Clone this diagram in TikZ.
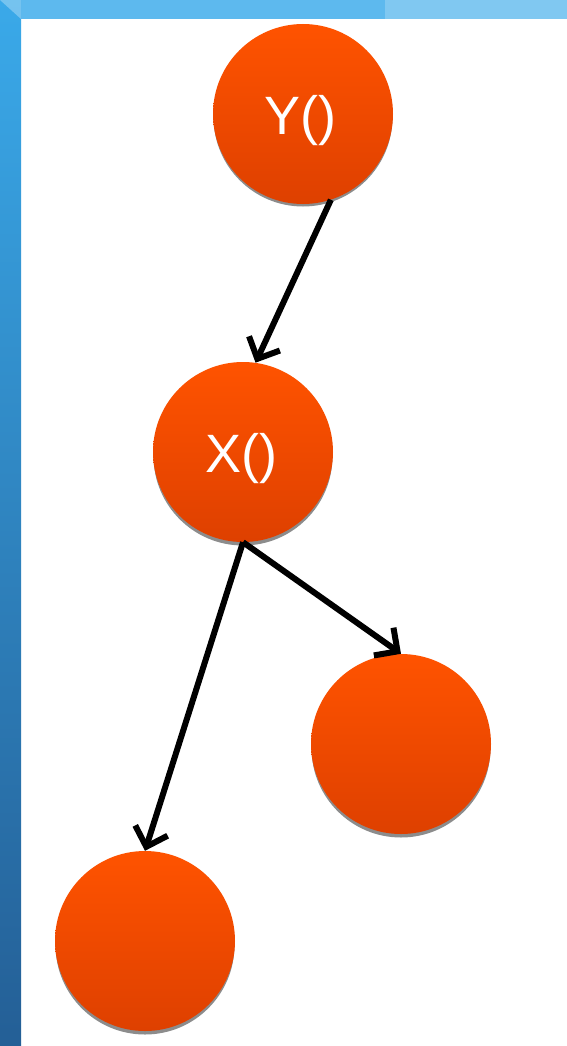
\documentclass[tikz,border=0pt]{standalone}
\usepackage{fontspec}
\setmainfont{Liberation Sans}
\usetikzlibrary{arrows.meta}
\definecolor{frameTop}{HTML}{3AA9E9}
\definecolor{frameBot}{HTML}{245F96}
\definecolor{barA}{HTML}{5DB9EE}
\definecolor{barB}{HTML}{80C8F1}
\definecolor{ballTop}{HTML}{FF5300}
\definecolor{ballBot}{HTML}{DE4000}
\tikzset{
  ball/.style={circle, minimum size=180pt, inner sep=0pt,
    top color=ballTop, bottom color=ballBot, draw=none},
  label text/.style={text=white, font=\fontsize{54}{60}\selectfont},
  ballshadow/.style={fill=black!45, draw=none},
  link/.style={line width=6pt, -{Straight Barb[length=17pt,width=34pt,line width=6pt]}}
}
\begin{document}
\begin{tikzpicture}[x=1pt,y=-1pt]
  \useasboundingbox (0,0) rectangle (567,1046);
  \fill[white] (0,0) rectangle (567,1046);
  % frame: top bar and left strip
  \fill[barA] (0,0) rectangle (385,19);
  \fill[barB] (385,0) rectangle (567,19);
  \shade[top color=frameTop, bottom color=frameBot] (0,0) rectangle (21,1046);
  \fill[white!60!frameTop, opacity=0.5] (0,0) -- (21,0) -- (21,19) -- cycle;

  % soft shadows under the balls
  \fill[ballshadow] (303,117) circle (89.5pt);
  \fill[ballshadow] (243,456) circle (89.5pt);
  \fill[ballshadow] (401,748) circle (89.5pt);
  \fill[ballshadow] (145,945) circle (89.5pt);

  % the balls
  \node[ball] (Y) at (303,114) {};
  \node[ball] (X) at (243,452) {};
  \node[ball] (R) at (401,744) {};
  \node[ball] (L) at (145,941) {};

  % function names
  \node[label text] (Ytext) at (300,121) {Y()};
  \node[label text] (Xtext) at (241,459) {X()};

  % calls
  \draw[link] (Y.-72) -- (X.82);
  \draw[link] (X.south) -- (L.north);
  \draw[link] (X.south) -- (R.north);
\end{tikzpicture}
\end{document}
